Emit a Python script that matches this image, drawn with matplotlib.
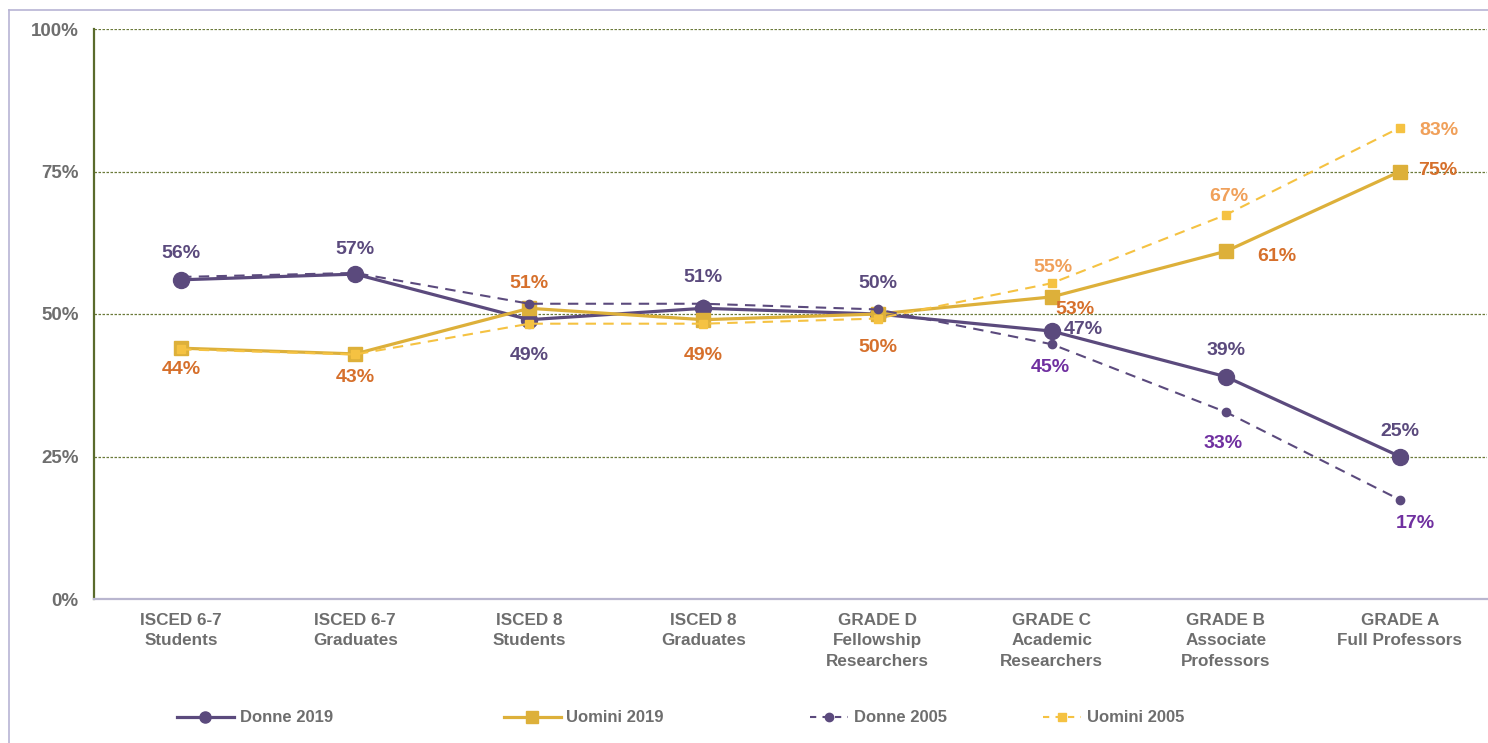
import matplotlib
matplotlib.use("Agg")
import matplotlib.pyplot as plt
from matplotlib.lines import Line2D

# categories and values (percent)
categories = ["ISCED 6-7\nStudents", "ISCED 6-7\nGraduates", "ISCED 8\nStudents", "ISCED 8\nGraduates",
              "GRADE D\nFellowship\nResearchers", "GRADE C\nAcademic\nResearchers",
              "GRADE B\nAssociate\nProfessors", "GRADE A\nFull Professors"]
donne_2019 = [56, 57, 49, 51, 50, 47, 39, 25]
uomini_2019 = [44, 43, 51, 49, 50, 53, 61, 75]
donne_2005 = [56.5, 57.2, 51.8, 51.8, 50.8, 44.7, 32.8, 17.4]
uomini_2005 = [43.8, 42.9, 48.3, 48.3, 49.2, 55.4, 67.4, 82.7]
donne_2005_lbl = {5: "45%", 6: "33%", 7: "17%"}
uomini_2005_lbl = {5: "55%", 6: "67%", 7: "83%"}

c_donne = "#5b4a7d"
c_uomini = "#ddb03a"
c_uomini05 = "#f5c242"
c_lbl_u19 = "#d6702c"
c_lbl_d05 = "#7030a0"
c_lbl_u05 = "#f0a05a"
c_tick = "#6e6e6e"

narrow = ["Liberation Sans Narrow", "Liberation Sans", "DejaVu Sans"]
plt.rcParams["font.family"] = ["Liberation Sans", "DejaVu Sans"]

fig = plt.figure(figsize=(14.88, 7.43), dpi=100)
ax = fig.add_axes([94/1488, 1-599/743, 1393/1488, 570/743])

x = list(range(len(categories)))

ax.plot(x, donne_2019, color=c_donne, lw=2.3, marker="o", ms=11.5, zorder=3)
ax.plot(x, uomini_2019, color=c_uomini, lw=2.3, marker="s", ms=10, zorder=4)
ax.plot(x, donne_2005, color=c_donne, lw=1.5, ls=(0, (5, 3.5)), marker="o", ms=6, zorder=5)
ax.plot(x, uomini_2005, color=c_uomini05, lw=1.5, ls=(0, (5, 3.5)), marker="s", ms=6, zorder=6)

# data labels: offsets in points
d19_off = [(0, 19), (0, 18), (0, -26), (0, 22), (0, 22), (23, 1), (0, 19), (0, 18)]
u19_off = [(0, -15), (0, -17), (0, 18), (0, -26), (0, -24), (17, -9), (37, -4), (27, 1)]
d05_off = {5: (-1, -17), 6: (-2, -23), 7: (11, -17)}
u05_off = {5: (1, 11), 6: (2, 13), 7: (28, -2)}

lblfont = dict(fontsize=14, fontweight="bold", ha="center", va="center")
for i, v in enumerate(donne_2019):
    ax.annotate(f"{v}%", (i, v), xytext=d19_off[i], textcoords="offset points",
                color=c_donne, zorder=7, **lblfont)
for i, v in enumerate(uomini_2019):
    ax.annotate(f"{v}%", (i, v), xytext=u19_off[i], textcoords="offset points",
                color=c_lbl_u19, zorder=7, **lblfont)
for i, t in donne_2005_lbl.items():
    ax.annotate(t, (i, donne_2005[i]), xytext=d05_off[i], textcoords="offset points",
                color=c_lbl_d05, zorder=7, **lblfont)
for i, t in uomini_2005_lbl.items():
    ax.annotate(t, (i, uomini_2005[i]), xytext=u05_off[i], textcoords="offset points",
                color=c_lbl_u05, zorder=7, **lblfont)

ax.set_xlim(-0.5, len(categories) - 0.5)
ax.set_ylim(0, 100)
ax.set_yticks([0, 25, 50, 75, 100])
ax.set_yticklabels(["0%", "25%", "50%", "75%", "100%"])
ax.set_xticks(x)
ax.set_xticklabels(categories, fontfamily=narrow, fontsize=12.3, fontweight="bold",
                   color=c_tick, linespacing=1.45)
for lab in ax.get_yticklabels():
    lab.set_fontsize(13.5)
    lab.set_fontweight("bold")
    lab.set_color(c_tick)
ax.tick_params(axis="both", length=0)
ax.tick_params(axis="y", pad=11)
ax.tick_params(axis="x", pad=10)

for yv in [25, 50, 75, 100]:
    ax.axhline(yv, color="#6b7a3a", lw=0.9, ls=(0, (2, 1.2)), zorder=1)

ax.spines["top"].set_visible(False)
ax.spines["right"].set_visible(False)
ax.spines["left"].set_color("#5a6b2c")
ax.spines["left"].set_linewidth(1.6)
ax.spines["bottom"].set_color("#b9b6cf")
ax.spines["bottom"].set_linewidth(1.6)

# legend entries placed one by one
leg_items = [
    ("Donne 2019", dict(color=c_donne, lw=2.3, marker="o", ms=8), 3.4, 177),
    ("Uomini 2019", dict(color=c_uomini, lw=2.3, marker="s", ms=8), 3.4, 504),
    ("Donne 2005", dict(color=c_donne, lw=1.5, ls=(0, (3, 3)), marker="o", ms=6), 2.3, 810),
    ("Uomini 2005", dict(color=c_uomini05, lw=1.5, ls=(0, (3, 3)), marker="s", ms=6), 2.3, 1043),
]
for name, kw, hl, xp in leg_items:
    h = Line2D([], [], **kw)
    fig.legend([h], [name], loc="center left", bbox_to_anchor=(xp/1488, 1-718/743),
               frameon=False, handlelength=hl, handletextpad=0.35, borderpad=0, borderaxespad=0,
               prop=dict(family=narrow, size=12, weight="bold"), labelcolor=c_tick)

# outer frame
fig.add_artist(Line2D([9/1488, 9/1488], [0, 1-10/743], color="#b8b4d4", lw=1.2,
                      transform=fig.transFigure))
fig.add_artist(Line2D([9/1488, 1], [1-10/743, 1-10/743], color="#b8b4d4", lw=1.2,
                      transform=fig.transFigure))

fig.savefig("out.png", dpi=100)
